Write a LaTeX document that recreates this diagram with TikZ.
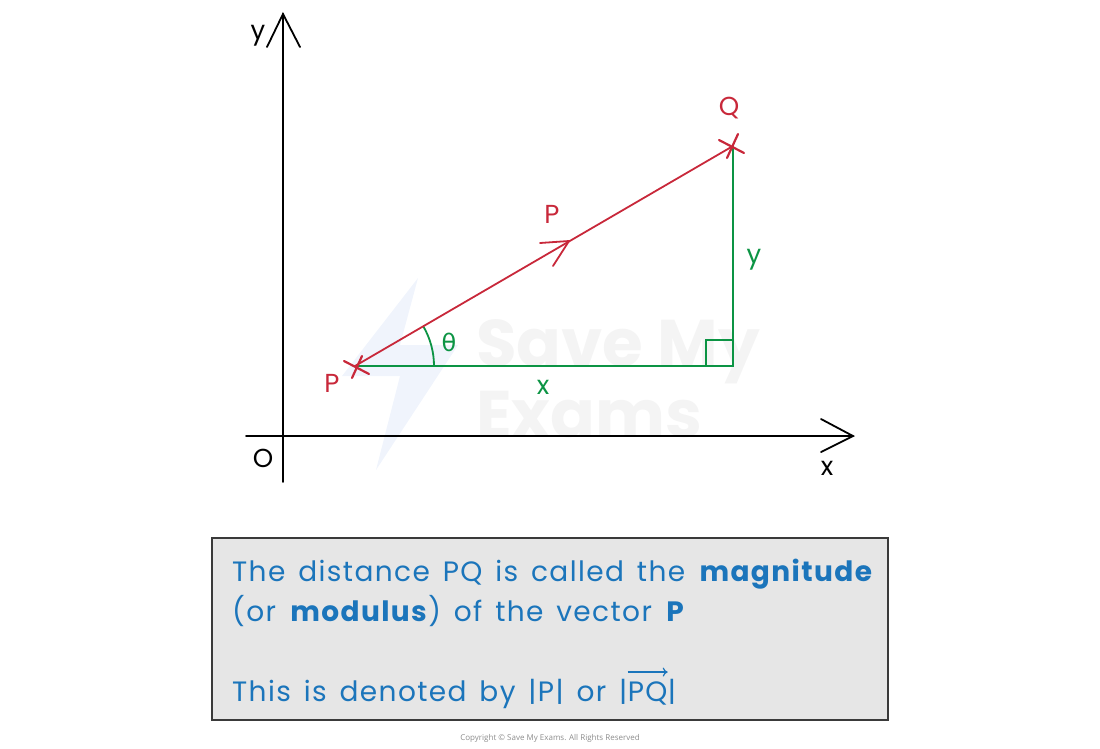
\documentclass[tikz,border=0pt]{standalone}
\usepackage{fontspec}
\usetikzlibrary{arrows.meta}
\setmainfont{Poppins}
\newfontfamily\boxfont[LetterSpace=5,WordSpace=1.45]{Poppins}
\newfontfamily\symfont{DejaVu Sans}
\newfontfamily\cpfont{Open Sans}
\definecolor{vecred}{HTML}{C8283A}
\definecolor{compgreen}{HTML}{0C9444}
\definecolor{txtblue}{HTML}{1B75BB}
\definecolor{boxgray}{HTML}{E6E6E6}
\definecolor{boxedge}{HTML}{3A3A3A}
\definecolor{wmgray}{HTML}{F4F4F4}
\definecolor{wmblue}{HTML}{F0F4FC}
\begin{document}
\begin{tikzpicture}[x=1pt,y=-1pt,
  axisline/.style={line width=1.8pt, black, line cap=round},
  vecline/.style={line width=1.8pt, vecred, line cap=round},
  compline/.style={line width=2.2pt, compgreen},
  lbl/.style={inner sep=0pt, font=\fontsize{26}{30}\selectfont},
  boxtext/.style={inner sep=0pt, anchor=base west, text=txtblue, font=\boxfont\fontsize{28}{32}\selectfont},
  infobox/.style={draw=boxedge, fill=boxgray, line width=1.3pt, minimum width=676pt, minimum height=182pt, inner sep=0pt}
]
\useasboundingbox (0,0) rectangle (1100,748);
% watermark
\fill[wmblue] (418,278) -- (342,376) -- (400,376) -- (376,470) -- (458,345) -- (400,345) -- cycle;
\node[inner sep=0pt, anchor=base west, text=wmgray, font=\fontsize{66}{66}\bfseries\selectfont] (wm1) at (476,366) {Save My};
\node[inner sep=0pt, anchor=base west, text=wmgray, font=\fontsize{66}{66}\bfseries\selectfont] (wm2) at (476,437) {Exams};
% axes
\coordinate (O) at (283,436);
\coordinate (ytip) at (283,14);
\coordinate (ybot) at (283,482);
\coordinate (xleft) at (246,436);
\coordinate (xtip) at (853,436);
\draw[axisline] (ybot) -- (ytip);
\draw[axisline] (267,47) -- (ytip) -- (300,47);
\draw[axisline] (xleft) -- (xtip);
\draw[axisline] (821,419) -- (xtip) -- (821,452);
\node[lbl] (ylab) at (258,36) {y};
\node[lbl] (xlab) at (827,468) {x};
\node[lbl] (olab) at (263,458) {O};
% triangle
\coordinate (P) at (355,366);
\coordinate (Q) at (733,146);
\coordinate (R) at (733,366);
\draw[compline] (P) -- (R) -- (Q);
\draw[compline, line width=1.8pt] (706,366) -- (706,340) -- (733,340);
\draw[compline, line width=1.8pt] ([xshift=79pt]P) arc[start angle=0, end angle=-30, radius=79];
\draw[vecline] (P) -- (Q);
% mid arrow
\coordinate (M) at (569,241);
\draw[vecline] (540,243) -- (M) -- (553,266);
% crosses
\draw[vecline, line width=2.2pt] (344,361) -- (369,374);
\draw[vecline, line width=2.2pt] (362,356) -- (352,378);
\draw[vecline, line width=2.2pt] (719,140) -- (744,153);
\draw[vecline, line width=2.2pt] (738,134) -- (727,158);
% labels
\node[lbl, text=vecred] (Plab) at (332,383) {P};
\node[lbl, text=vecred] (Qlab) at (729,108) {Q};
\node[lbl, text=vecred] (vlab) at (552,214) {P};
\node[lbl, text=compgreen] (thlab) at (449,342) {\symfont\fontsize{24}{28}\selectfont θ};
\node[lbl, text=compgreen] (xc) at (543,387) {x};
\node[lbl, text=compgreen] (yc) at (754,260) {y};
% box
\node[infobox] (box) at (550,629) {};
\node[boxtext] (l1) at (232,581) {The distance PQ is called the \textbf{magnitude}};
\node[boxtext] (l2) at (232,621) {(or \textbf{modulus}) of the vector \textbf{P}};
\node[boxtext] (l3) at (232,701) {This is denoted by |P| or |};
\node[boxtext] (pq) at (l3.base east) {PQ};
\node[boxtext] (bar) at (pq.base east) {|};
\draw[txtblue, line width=1.2pt, -{To[length=5pt,width=9pt]}] ([yshift=9pt]pq.north west) -- ([yshift=9pt]pq.north east);
% copyright
\node[inner sep=0pt, text=black!45, font=\cpfont\fontsize{8}{10}\selectfont] (copy) at (550,738) {Copyright © Save My Exams. All Rights Reserved};
\end{tikzpicture}
\end{document}
